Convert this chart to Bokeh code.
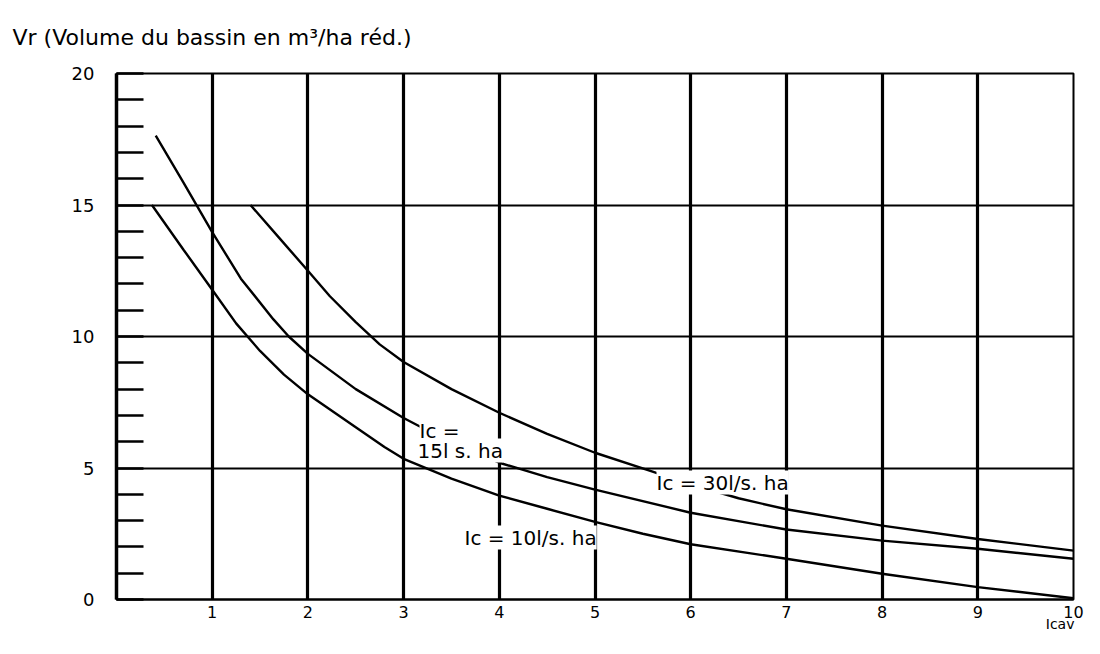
from bokeh.plotting import figure
from bokeh.models import Range1d, SingleIntervalTicker, FixedTicker, Label, Title, LinearAxis
from bokeh.embed import file_html
from bokeh.resources import INLINE

# ---- data ----
x_ic10 = [0.37, 0.7, 1.0, 1.25, 1.5, 1.75, 2.0, 2.5, 2.8, 3.0, 3.5, 4.0, 4.5, 5.0, 5.5, 6.0, 7.0, 8.0, 9.0, 10.0]
y_ic10 = [15.0, 13.3, 11.78, 10.5, 9.45, 8.55, 7.8, 6.55, 5.8, 5.35, 4.6, 3.95, 3.45, 2.95, 2.5, 2.1, 1.55, 0.98, 0.47, 0.05]

x_ic15 = [0.41, 0.7, 1.0, 1.3, 1.64, 1.8, 2.0, 2.5, 3.0, 3.5, 4.0, 4.5, 5.0, 6.0, 7.0, 8.0, 9.0, 10.0]
y_ic15 = [17.64, 15.85, 13.97, 12.2, 10.65, 10.0, 9.34, 8.0, 6.9, 5.95, 5.2, 4.65, 4.18, 3.3, 2.66, 2.24, 1.93, 1.55]

x_ic30 = [1.40, 1.7, 2.0, 2.23, 2.5, 2.75, 3.0, 3.5, 4.0, 4.5, 5.0, 5.57, 6.0, 6.5, 7.0, 8.0, 9.0, 10.0]
y_ic30 = [15.0, 13.75, 12.5, 11.53, 10.55, 9.7, 9.03, 8.0, 7.1, 6.3, 5.58, 4.9, 4.38, 3.85, 3.43, 2.81, 2.3, 1.86]

x_ticks = [1, 2, 3, 4, 5, 6, 7, 8, 9, 10]
title_text = "Vr (Volume du bassin en m³/ha réd.)"
label_15 = ["Ic =", "15l s. ha"]
label_30 = "Ic = 30l/s. ha"
label_10 = "Ic = 10l/s. ha"
x_name = "Icav"
x_name_at = 9.86

# ---- layout ----
W, H = 1084, 638
L, R, T, B = 116, 11, 73, 39
FW, FH = W - L - R, H - T - B
FONT = "DejaVu Sans"

p = figure(width=W, height=H, x_range=Range1d(0, 10), y_range=Range1d(0, 20),
           output_backend="svg", toolbar_location=None,
           min_border_left=L, min_border_right=R, min_border_top=T, min_border_bottom=B)
p.background_fill_color = "white"
p.border_fill_color = "white"
p.outline_line_color = "black"
p.outline_line_width = 2

# title
title = Title(text=title_text, align="left", offset=-104, standoff=44,
              vertical_align="top",
              text_font=FONT, text_font_size="22px", text_font_style="normal",
              text_color="black")
p.add_layout(title, "above")

# main x axis
xa = p.below[0]
xa.ticker = FixedTicker(ticks=x_ticks)
xa.major_tick_in = 0
xa.major_tick_out = 0
xa.minor_tick_in = 0
xa.minor_tick_out = 0
xa.axis_line_color = "black"
xa.axis_line_width = 2
xa.major_label_standoff = 6
xa.major_label_text_font = FONT
xa.major_label_text_font_size = "16px"
xa.major_label_text_color = "black"

# second, bare axis below carrying the "Icav" name under the right end
name_axis = LinearAxis(ticker=FixedTicker(ticks=[x_name_at]),
                       major_label_overrides={x_name_at: x_name},
                       axis_line_color=None, major_tick_in=0, major_tick_out=0,
                       minor_tick_in=0, minor_tick_out=0,
                       major_label_standoff=-5,
                       major_label_text_font=FONT, major_label_text_font_size="14px",
                       major_label_text_color="black")
p.add_layout(name_axis, "below")

# y axis
ya = p.left[0]
ya.ticker = SingleIntervalTicker(interval=5, num_minor_ticks=5)
ya.major_tick_in = 0
ya.major_tick_out = 0
ya.minor_tick_in = 27
ya.minor_tick_out = 0
ya.minor_tick_line_width = 2.5
ya.minor_tick_line_color = "black"
ya.axis_line_color = "black"
ya.axis_line_width = 3.5
ya.major_label_standoff = 22
ya.major_label_text_font = FONT
ya.major_label_text_font_size = "18px"
ya.major_label_text_color = "black"

# grids
p.xgrid.ticker = FixedTicker(ticks=x_ticks)
p.xgrid.grid_line_color = "black"
p.xgrid.grid_line_width = 3.2
p.xgrid.grid_line_alpha = 1
p.ygrid.ticker = SingleIntervalTicker(interval=5)
p.ygrid.grid_line_color = "black"
p.ygrid.grid_line_width = 1.8
p.ygrid.grid_line_alpha = 1

# curves
for xs, ys in [(x_ic10, y_ic10), (x_ic15, y_ic15), (x_ic30, y_ic30)]:
    p.line(xs, ys, line_color="black", line_width=2.4)

def dx(cx):
    return (cx - L) / FW * 10.0

def dy(cy):
    return (H - B - cy) / FH * 20.0

def lab(text, cx, cy, size):
    p.add_layout(Label(x=dx(cx), y=dy(cy), text=text, text_font=FONT,
                       text_font_size=size, text_color="black",
                       text_align="left", text_baseline="middle",
                       background_fill_color="white", background_fill_alpha=1.0))

# curve labels (pixel positions of the reference)
lab(label_15[0], 419, 430, "20px")
lab(label_15[1], 417, 450, "20px")
lab(label_30, 656, 482, "20px")
lab(label_10, 464, 537, "20px")

open("out.html", "w").write(file_html(p, INLINE))
